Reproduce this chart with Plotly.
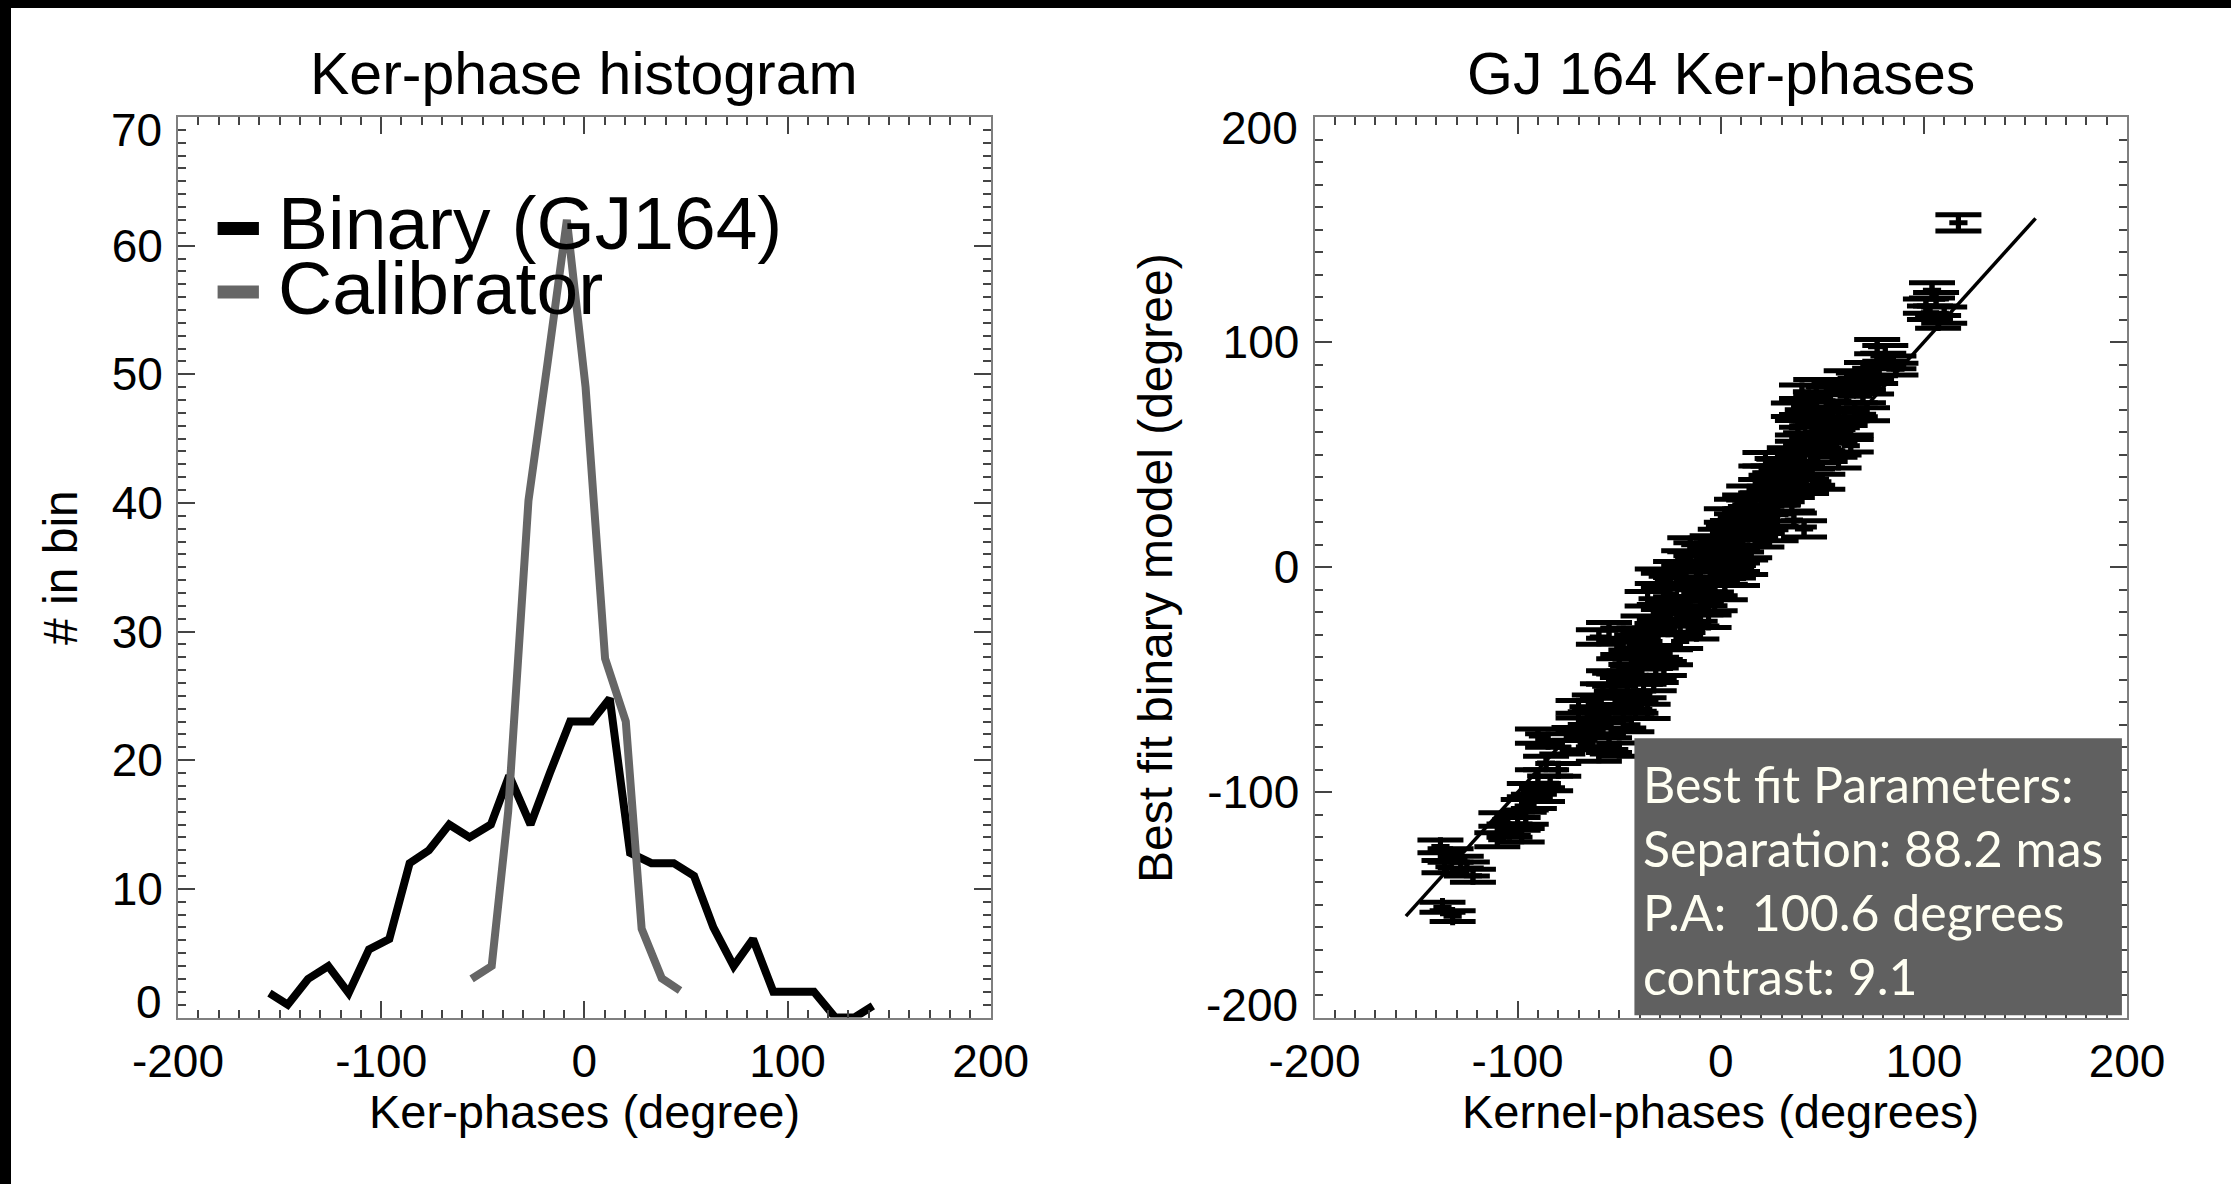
import plotly.graph_objects as go

W, H = 2231, 1184

# ---------------- data: left panel (histogram of kernel phases) ----------------
bin_binary = [-155, -146, -136, -126, -116, -106, -96, -86, -76.5, -66.5, -56.5, -46,
              -37, -26.5, -17, -7, 3.5, 12.5, 22.5, 33, 44, 54, 63.5, 73.5, 83, 93,
              103, 113, 123.5, 133, 142]
count_binary = [1.9, 1.0, 3.0, 4.0, 1.9, 5.3, 6.1, 12.0, 13.0, 15.0, 14.0, 15.0,
                18.8, 15.0, 19.0, 23.0, 23.0, 24.8, 12.8, 12.0, 12.0, 11.0, 7.0, 4.0, 6.1, 2.0,
                2.0, 2.0, 0.0, 0.0, 0.9]
bin_cal = [-55.5, -45.6, -37.5, -27.5, -18.0, -8.6, 0.6, 10.2, 20.4, 28.2, 38.1, 47.1]
count_cal = [3.0, 4.0, 16.0, 40.2, 51.0, 62.0, 49.0, 27.9, 23.0, 6.9, 3.05, 2.1]

# ---------------- data: right panel (kernel phases vs model) ----------------
kp_x = [117,
        104, 106, 101, 110, 107, 103,
        77, 81, 85, 72, 76, 86, 80, 68,
        40, 47, 56, 62, 52, 36, 44, 58, 66, 72, 50, 61, 40,
        38, 45, 52, 60, 42, 50, 56, 64, 47, 38, 58, 44,
        22, 28, 35, 30, 40, 25, 36, 45, 20, 32, 50, 27,
        14, 20, 26, 35, 8, 17, 28, 3, 12, 22, 36, 41, 6, 16, 27, 0, 10, 20,
        -4, 5, -12, -1, 8, 14, -18, -7, 3, 12, -22, -12, -2, 8, -28, -17, -6, 2, -25, -14, -31, -9,
        -36, -22, -10, -30, -16, -6, -38, -26, -12, -55, -60, -48, -34, -20, -42,
        -30, -44, -36, -50, -28, -40, -55, -46, -33, -58, -38,
        -50, -62, -42, -55, -36, -64, -48, -58,
        -90, -85, -72, -66, -55, -50, -78, -60,
        -86, -80, -90, -84, -94, -88, -92, -97,
        -108, -100, -96, -104, -110, -98,
        -138, -133, -128, -125, -122, -136,
        -137, -132,
        -70, -45, -52, -42, -25, -48, -40, -28, -20, -8, -18, -3, 6, -10, 0, 10, 4, 18, 24, 12,
        30, 42, 26, 34, 48, 55, 46, 64, 53, 70, 62, 74, -15, -20, -32, -60, -70, -44, 20, 38]
model_y = [153,
           123, 119, 116, 112, 109, 113,
           98, 95, 91, 88, 85, 88, 92, 83,
           78, 80, 80, 76, 74, 70, 72, 70, 70, 68, 67, 66, 65,
           62, 60, 62, 60, 57, 55, 52, 54, 50, 53, 47, 47,
           48, 45, 44, 40, 42, 38, 37, 40, 42, 35, 38, 34,
           33, 30, 31, 28, 27, 25, 24, 23, 21, 20, 21, 17, 18, 16, 15, 14, 13, 12,
           11, 9, 8, 6, 5, 7, 4, 2, 1, 0, -1, -2, -4, -5, -6, -7, -9, -11, -12, -12, -4, 4,
           -14, -16, -18, -20, -22, -24, -25, -27, -29, -28, -31, -30, -32, -33, -35,
           -38, -40, -42, -44, -45, -48, -49, -52, -52, -55, -55,
           -58, -60, -62, -64, -64, -67, -68, -71,
           -75, -77, -74, -78, -79, -81, -80, -83,
           -87, -90, -93, -96, -99, -101, -104, -106,
           -112, -114, -111, -117, -121, -119,
           -124, -128, -131, -134, -137, -133,
           -151, -155,
           -70, -60, -50, -46, -40, -36, -30, -22, -26, -14, -10, -16, -2, -5, 3, 10, 16, 22, 27, 29,
           32, 36, 42, 50, 56, 64, 68, 62, 77, 76, 84, 80, 10, -18, -48, -66, -62, -70, 36, 48]
model_err = [3.6,
             3.4, 3.0, 3.2, 3.6, 2.8, 3.0,
             3.2, 3.5, 2.8, 3.0, 3.4, 2.6, 3.1, 3.3,
             3.0, 3.4, 2.8, 3.2, 3.6, 3.0, 2.7, 3.3, 3.1, 2.9, 3.5, 3.0, 2.8,
             3.2, 2.9, 3.4, 3.0, 2.7, 3.3, 3.1, 2.8, 3.5, 3.0, 2.9, 3.2,
             3.0, 3.3, 2.8, 3.4, 3.1, 2.9, 3.2, 3.6, 3.0, 2.7, 3.3, 3.0,
             3.1, 2.9, 3.4, 3.0, 3.2, 2.8, 3.5, 3.0, 2.9, 3.3, 3.1, 3.6, 2.8, 3.0, 3.2, 2.9, 3.4, 3.0,
             3.0, 3.2, 2.9, 3.4, 3.1, 2.8, 3.3, 3.0, 2.7, 3.2, 3.5, 3.0, 2.9, 3.1, 3.3, 2.8, 3.0, 3.4, 3.1, 2.9, 3.2, 3.0,
             3.2, 2.9, 3.1, 3.4, 3.0, 2.8, 3.3, 3.0, 2.9, 3.5, 3.2, 3.0, 2.8, 3.1, 3.3,
             3.0, 3.2, 2.9, 3.4, 3.1, 2.8, 3.0, 3.3, 2.9, 3.2, 3.0,
             3.1, 3.3, 2.9, 3.0, 3.2, 2.8, 3.4, 3.0,
             3.2, 3.0, 2.8, 3.1, 3.3, 2.9, 3.0, 3.2,
             3.0, 2.8, 3.1, 3.3, 2.9, 3.0, 3.2, 2.8,
             3.0, 2.8, 3.2, 2.9, 3.1, 3.0,
             2.8, 3.0, 2.6, 3.1, 2.9, 2.7,
             2.2, 2.4,
             3.0, 3.2, 2.9, 3.1, 3.3, 2.8, 3.0, 3.2, 2.9, 3.1, 3.0, 3.3, 2.8, 3.1, 3.0, 3.2, 2.9, 3.0, 3.4, 3.1,
             2.9, 3.2, 3.0, 3.1, 3.3, 2.8, 3.0, 3.2, 3.1, 2.9, 3.3, 3.0, 3.1, 2.9, 3.2, 3.0, 2.8, 3.1, 3.0, 3.2]
fit_x = [-155, 155]
fit_y = [-155, 155]

# ---------------- ticks / labels ----------------
x_ticks_left = [-200, -100, 0, 100, 200]
x_ticktext_left = ["-200", "-100", "0", "100", "200"]
y_ticks_left = [0, 10, 20, 30, 40, 50, 60, 70]
y_ticktext_left = ["0", "10", "20", "30", "40", "50", "60", "70"]
x_ticks_right = [-200, -100, 0, 100, 200]
x_ticktext_right = ["-200", "-100", "0", "100", "200"]
y_ticks_right = [-200, -100, 0, 100, 200]
y_ticktext_right = ["-200", "-100", "0", "100", "200"]

titles = ["Ker-phase histogram", "GJ 164 Ker-phases"]
x_titles = ["Ker-phases (degree)", "Kernel-phases (degrees)"]
y_titles = ["# in bin", "Best fit binary model (degree)"]
legend_names = ["Binary (GJ164)", "Calibrator"]
fit_text = ["Best fit Parameters:", "Separation: 88.2 mas", "P.A:  100.6 degrees", "contrast: 9.1"]

GRAY = "#666666"
FONT = "Liberation Sans, Arial, Helvetica, sans-serif"


def px(x):
    return x / W


def py(y):
    return 1 - y / H


fig = go.Figure()

fig.add_trace(go.Scatter(x=bin_binary, y=count_binary, mode="lines",
                         line=dict(color="black", width=8), name=legend_names[0],
                         xaxis="x", yaxis="y", showlegend=False))
fig.add_trace(go.Scatter(x=bin_cal, y=count_cal, mode="lines",
                         line=dict(color=GRAY, width=8), name=legend_names[1],
                         xaxis="x", yaxis="y", showlegend=False))

fig.add_trace(go.Scatter(x=kp_x, y=model_y, mode="markers",
                         marker=dict(symbol="cross-thin", size=13, color="black",
                                     line=dict(color="black", width=5)),
                         error_y=dict(type="data", array=model_err, visible=True,
                                      color="black", thickness=5, width=23),
                         xaxis="x2", yaxis="y2", showlegend=False, name="Ker-phases"))
fig.add_trace(go.Scatter(x=fit_x, y=fit_y, mode="lines",
                         line=dict(color="black", width=3.5),
                         xaxis="x2", yaxis="y2", showlegend=False, name="model"))

ydom = [py(1017.5), py(117)]
tickfont = dict(family=FONT, size=46, color="black")
axis_common = dict(showline=True, linecolor="#7f7f7f", linewidth=2, mirror="allticks",
                   ticks="inside", ticklen=17, tickwidth=1.5, tickcolor="#444444",
                   showgrid=False, zeroline=False, automargin=False, tickfont=tickfont)
minor_common = dict(ticks="inside", ticklen=8, tickwidth=1.5, tickcolor="#444444", showgrid=False)


def inner_labels(labels):
    # the end labels are placed separately (nudged inside the frame, as in the original)
    return [""] + labels[1:-1] + [""]


fig.update_layout(
    width=W, height=H, autosize=False,
    margin=dict(l=0, r=0, t=0, b=0),
    paper_bgcolor="white", plot_bgcolor="white",
    showlegend=False,
    xaxis=dict(domain=[px(178), px(990.7)], range=[-200, 200], anchor="y",
               tickmode="array", tickvals=x_ticks_left, ticktext=x_ticktext_left,
               ticklabelstandoff=2, minor=dict(tick0=-200, dtick=10, **minor_common),
               **axis_common),
    yaxis=dict(domain=ydom, range=[0, 70], anchor="x",
               tickmode="array", tickvals=y_ticks_left, ticktext=inner_labels(y_ticktext_left),
               ticklabelstandoff=4, minor=dict(tick0=0, dtick=1, **minor_common),
               **axis_common),
    xaxis2=dict(domain=[px(1314.5), px(2127)], range=[-200, 200], anchor="y2",
                tickmode="array", tickvals=x_ticks_right, ticktext=x_ticktext_right,
                ticklabelstandoff=2, minor=dict(tick0=-200, dtick=10, **minor_common),
                **axis_common),
    yaxis2=dict(domain=ydom, range=[-200, 200], anchor="x2",
                tickmode="array", tickvals=y_ticks_right, ticktext=inner_labels(y_ticktext_right),
                ticklabelstandoff=4, minor=dict(tick0=-200, dtick=10, **minor_common),
                **axis_common),
)

annotations = [
    dict(text=titles[0], x=px(584.35), y=py(74), font=dict(family=FONT, size=59, color="black")),
    dict(text=titles[1], x=px(1720.7), y=py(74), font=dict(family=FONT, size=59, color="black")),
    dict(text=x_titles[0], x=px(584.35), y=py(1111), font=dict(family=FONT, size=47, color="black")),
    dict(text=x_titles[1], x=px(1720.7), y=py(1111), font=dict(family=FONT, size=47, color="black")),
    dict(text=y_titles[0], x=px(60), y=py(568), textangle=-90,
         font=dict(family=FONT, size=48, color="black")),
    dict(text=y_titles[1], x=px(1155), y=py(568), textangle=-90,
         font=dict(family=FONT, size=48, color="black")),
    dict(text=legend_names[0], x=px(275.5), y=py(223), xanchor="left",
         font=dict(family=FONT, size=75, color="black")),
    dict(text=legend_names[1], x=px(275.5), y=py(288), xanchor="left",
         font=dict(family=FONT, size=75, color="black")),
]
for a in annotations:
    a.update(xref="paper", yref="paper")

# end tick labels of the y axes: placed at their axis value, nudged inside the frame
end_labels = [
    (y_ticktext_left[0], y_ticks_left[0], "y", px(164), 16),
    (y_ticktext_left[-1], y_ticks_left[-1], "y", px(164), -13),
    (y_ticktext_right[0], y_ticks_right[0], "y2", px(1300), 13),
    (y_ticktext_right[-1], y_ticks_right[-1], "y2", px(1300), -11),
]
for text, val, yref, xpos, shift in end_labels:
    annotations.append(dict(text=text, x=xpos, xref="paper", y=val, yref=yref, yshift=shift,
                            xanchor="right", font=tickfont))

# parameter box: one line per annotation so spacing matches the original
box_baselines = [798.3, 862.0, 926.0, 990.0]
for line_text, base in zip(fit_text, box_baselines):
    annotations.append(dict(text=line_text, x=px(1641), y=py(base - 14), xanchor="left",
                            align="left", xref="paper", yref="paper",
                            font=dict(family="Lato, Open Sans, sans-serif", size=50,
                                      color="#FFFFF2")))
for a in annotations:
    a.setdefault("xanchor", "center")
    a.setdefault("yanchor", "middle")
    a.update(showarrow=False)
fig.update_layout(annotations=annotations)

shapes = [
    # grey parameter box
    dict(type="rect", xref="x2", yref="y2", x0=-42.5, x1=197.5, y0=-199, y1=-76,
         fillcolor="#606060", line=dict(width=0), layer="above"),
    # legend swatches
    dict(type="line", xref="paper", yref="paper", x0=px(217.6), x1=px(258.9),
         y0=py(228.5), y1=py(228.5), line=dict(color="black", width=13)),
    dict(type="line", xref="paper", yref="paper", x0=px(217.6), x1=px(258.9),
         y0=py(292), y1=py(292), line=dict(color=GRAY, width=13)),
    # black borders of the original image
    dict(type="rect", xref="paper", yref="paper", x0=0, x1=px(11), y0=0, y1=1,
         fillcolor="black", line=dict(width=0), layer="above"),
    dict(type="rect", xref="paper", yref="paper", x0=0, x1=1, y0=py(8), y1=1,
         fillcolor="black", line=dict(width=0), layer="above"),
]
fig.update_layout(shapes=shapes)

fig.write_html("out.html")
